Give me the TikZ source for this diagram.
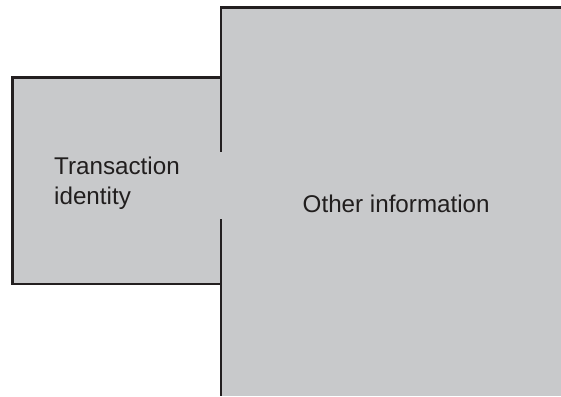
\documentclass[tikz,border=0pt]{standalone}
\usepackage{fontspec}
\setmainfont{Liberation Sans}
\definecolor{boxfill}{RGB}{200,201,203}
\definecolor{edge}{RGB}{35,31,32}
\begin{document}
\begin{tikzpicture}[x=1pt,y=-1pt,
  edgeline/.style={draw=edge,line width=2.6pt,line cap=butt,line join=miter},
  lbl/.style={anchor=base west,inner sep=0pt,font=\fontsize{24.2}{30}\selectfont,text=edge!95!black,align=left}]
\useasboundingbox (0,0) rectangle (561,396);
% fills
\fill[boxfill] (12.5,77.5) rectangle (222,284);
\fill[boxfill] (221,7.5) rectangle (561,396);
% left box outline (open at right)
\draw[edgeline] (221,77.5) -- (12.5,77.5) -- (12.5,284) -- (221,284);
% right box outline
\draw[edgeline] (561,7.5) -- (221,7.5) -- (221,152);
\draw[edgeline] (221,219) -- (221,396);
% labels
\node[lbl] (trans) at (54,174) {Transaction};
\node[lbl] (ident) at (54,204.5) {identity};
\node[lbl] (other) at (302.5,212.5) {Other information};
\end{tikzpicture}
\end{document}
